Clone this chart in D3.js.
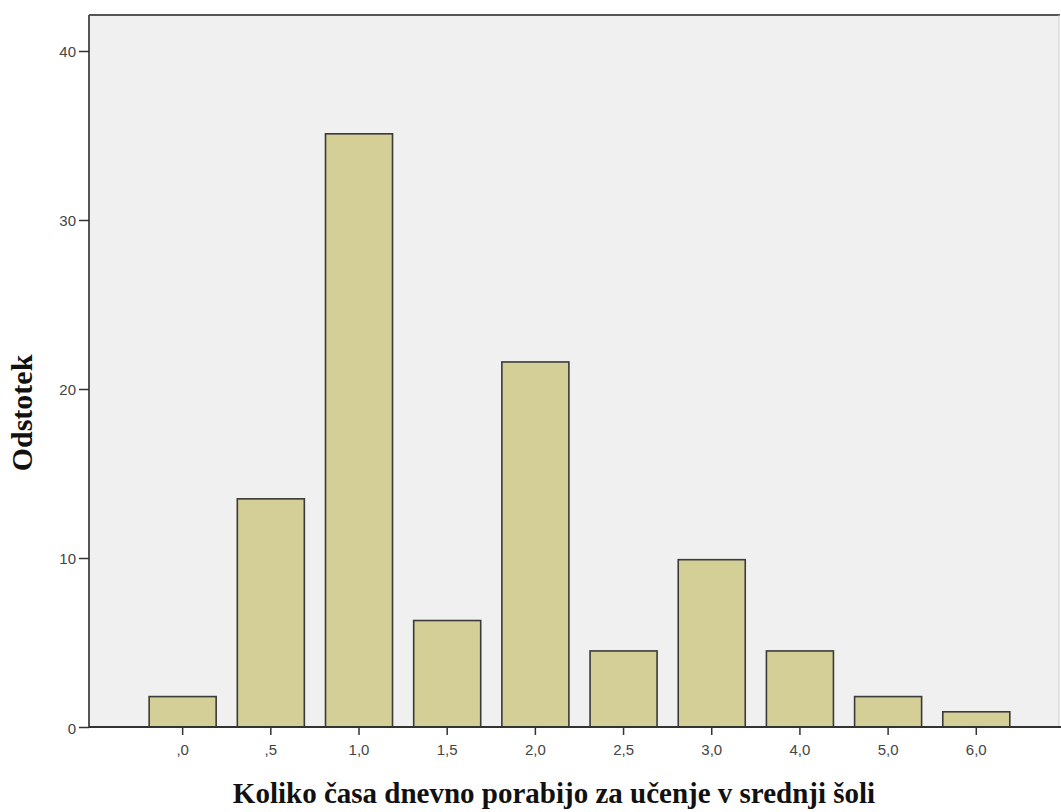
<!DOCTYPE html>
<html><head><meta charset="utf-8">
<script src="https://cdn.jsdelivr.net/npm/d3@7"></script>
<style>body{margin:0;background:#fff}svg{display:block}</style>
</head><body>
<script>
const categories = [",0", ",5", "1,0", "1,5", "2,0", "2,5", "3,0", "4,0", "5,0", "6,0"];
const values = [1.8, 13.5, 35.1, 6.3, 21.6, 4.5, 9.9, 4.5, 1.8, 0.9];
const yTicks = [0, 10, 20, 30, 40];
const xTitle = "Koliko časa dnevno porabijo za učenje v srednji šoli";
const yTitle = "Odstotek";

const W = 1061, H = 812;
const L = 89, R = 1059, T = 15, B = 727;
const svg = d3.select("body").append("svg").attr("width", W).attr("height", H);

const x = d3.scaleBand().domain(categories).range([L, R]).paddingInner(0.24).paddingOuter(0.62).align(0.55);
const y = d3.scaleLinear().domain([0, 42.13]).range([B, T]);

svg.append("rect").attr("x", L).attr("y", T).attr("width", R - L).attr("height", B - T)
  .attr("fill", "#f0f0f0").attr("stroke", "none");

svg.append("g").selectAll("rect").data(values).join("rect")
  .attr("x", (d, i) => x(categories[i]))
  .attr("width", x.bandwidth())
  .attr("y", d => y(d))
  .attr("height", d => B - y(d))
  .attr("fill", "#d3cf96").attr("stroke", "#3a3a3a").attr("stroke-width", 1.6);

// frame
svg.append("line").attr("x1", L).attr("x2", R + 1).attr("y1", T).attr("y2", T).attr("stroke", "#555").attr("stroke-width", 2);
svg.append("line").attr("x1", L).attr("x2", L).attr("y1", T).attr("y2", B).attr("stroke", "#555").attr("stroke-width", 2);
svg.append("line").attr("x1", R).attr("x2", R).attr("y1", T).attr("y2", B).attr("stroke", "#ccc").attr("stroke-width", 1);

const yAxis = d3.axisLeft(y).tickValues(yTicks).tickSize(10).tickPadding(3).tickFormat(d3.format("d"));
const gy = svg.append("g").attr("transform", `translate(${L},0)`).call(yAxis);
gy.select(".domain").remove();
gy.selectAll(".tick line").attr("stroke", "#333").attr("stroke-width", 1.5);
gy.selectAll(".tick text").attr("fill", "#444").style("font-family", "Arial, 'Liberation Sans', sans-serif").style("font-size", "15px").attr("dy", "0.4em");

const xAxis = d3.axisBottom(x).tickSize(8).tickPadding(9);
const gx = svg.append("g").attr("transform", `translate(0,${B})`).call(xAxis);
gx.select(".domain").attr("d", `M${L},0H${R + 2}`).attr("stroke", "#333").attr("stroke-width", 1.8);
gx.selectAll(".tick line").attr("stroke", "#333").attr("stroke-width", 1.5);
gx.selectAll(".tick text").attr("fill", "#444").style("font-family", "Arial, 'Liberation Sans', sans-serif").style("font-size", "15px");

svg.append("text").attr("x", 554).attr("y", 803).attr("text-anchor", "middle")
  .style("font-family", "'Times New Roman', 'Liberation Serif', serif").style("font-weight", "bold").style("font-size", "29px")
  .attr("fill", "#111").text(xTitle);
svg.append("text").attr("transform", `translate(32,413) rotate(-90)`).attr("text-anchor", "middle")
  .style("font-family", "'Times New Roman', 'Liberation Serif', serif").style("font-weight", "bold").style("font-size", "30px")
  .attr("fill", "#111").text(yTitle);
</script>
</body></html>
